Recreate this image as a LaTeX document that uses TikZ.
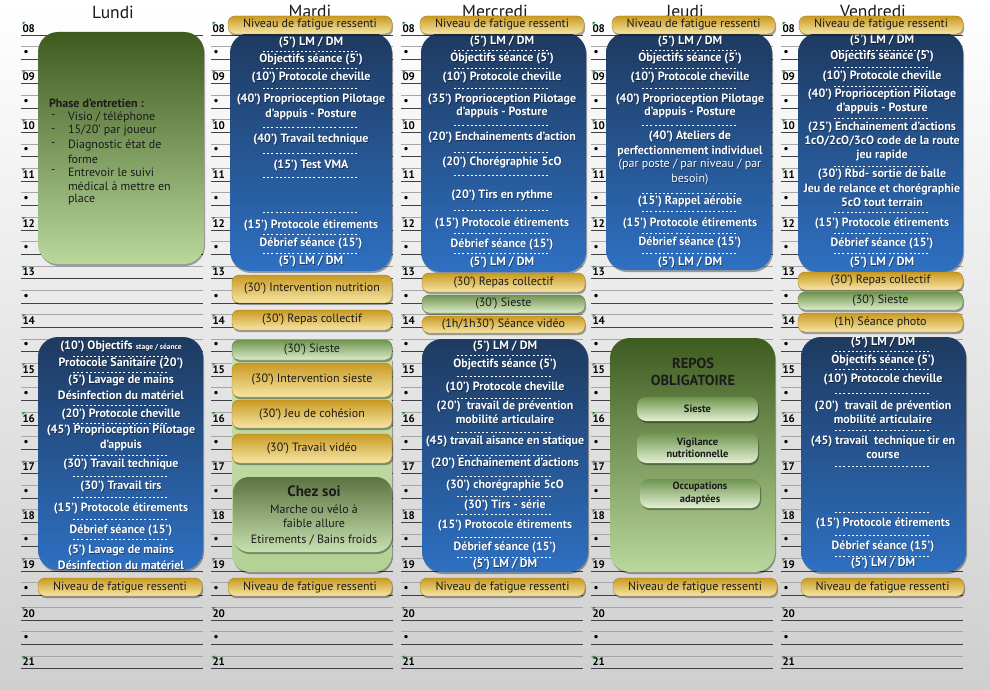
\documentclass[tikz,border=0pt]{standalone}
\usepackage{fontspec}
\setmainfont{PT Sans}
\usetikzlibrary{shadows}
\definecolor{blueT}{HTML}{1E3A60}
\definecolor{blueB}{HTML}{2E70C2}
\definecolor{greenT}{HTML}{3E5B1F}
\definecolor{greenB}{HTML}{B9D89C}
\definecolor{yelT}{HTML}{C99A22}
\definecolor{yelM}{HTML}{F3D57A}
\definecolor{yelB}{HTML}{F7E6A6}
\definecolor{yelD}{HTML}{A8831C}
\definecolor{sgT}{HTML}{6F9550}
\definecolor{sgB}{HTML}{DDEDC9}
\definecolor{panT}{HTML}{C9E0AF}
\definecolor{panB}{HTML}{B2D194}
\definecolor{darktext}{HTML}{1B1B1B}
\definecolor{markgreen}{HTML}{2E8B2E}
\tikzset{
  every node/.style={inner sep=0pt,outer sep=0pt},
  boxshadow/.style={drop shadow={shadow xshift=1pt,shadow yshift=-2pt,opacity=0.35,fill=black}},
  bluebox/.style={rounded corners=20pt,top color=blueT,bottom color=blueB,boxshadow},
  greenbox/.style={rounded corners=20pt,top color=greenT,bottom color=greenB,boxshadow},
  panelbox/.style={rounded corners=18pt,top color=panT,bottom color=panB,boxshadow},
  chezbox/.style={rounded corners=16pt,top color=greenT!85!white,bottom color=greenB!80!white,boxshadow},
  innerbox/.style={rounded corners=9pt,top color=sgT,bottom color=sgB!80!white,boxshadow,
     text=darktext,font=\fontsize{10.5}{12.5}\selectfont\bfseries,align=center},
  ybox/.style={rounded corners=7pt,top color=yelT,middle color=yelM,bottom color=yelB,draw=yelD,line width=0.4pt,boxshadow,
     text=darktext,font=\fontsize{12}{13}\selectfont},
  gbox/.style={rounded corners=7pt,top color=sgT,bottom color=sgB,draw=sgT!80!black,line width=0.4pt,boxshadow,
     text=darktext,font=\fontsize{12}{13}\selectfont},
  wtext/.style={text=white,font=\fontsize{12}{13}\selectfont\bfseries},
  wshadow/.style={text=black,opacity=0.45,font=\fontsize{12}{13}\selectfont\bfseries},
  sep/.style={white,line width=0.8pt,dash pattern=on 2pt off 2.2pt},
  thinrule/.style={black!35,line width=0.5pt},
  thickrule/.style={black!75,line width=0.9pt},
  hourlab/.style={anchor=west,font=\fontsize{11}{12}\selectfont\bfseries,text=black},
  daytitle/.style={font=\fontsize{17.5}{19}\selectfont,text=black!90},
  gtext/.style={text=darktext,font=\fontsize{12}{13}\selectfont,anchor=west},
}
\newcommand\boxnode[7]{%
  \pgfmathsetmacro\bw{#5-#3}\pgfmathsetmacro\bh{#6-#4}%
  \node[#1,minimum width=\bw pt,minimum height=\bh pt] (#2) at ({(#3+#5)/2},{(#4+#6)/2}) {#7};}
\newcommand\items[3]{%
  \foreach \yy/\tx [count=\cnt] in {#3} {%
    \node[wshadow] (#1s\cnt) at (#2+0.7,\yy+0.9) {\tx};
    \node[wtext] (#1\cnt) at (#2,\yy) {\tx};}}
\newcommand\seps[2]{%
  \foreach \yy in {#2} {\draw[sep] (#1-48,\yy) -- (#1+48,\yy);}}
\begin{document}
\begin{tikzpicture}[x=1pt,y=-1pt]
\useasboundingbox (0,0) rectangle (990,690);
\fill[top color=white,middle color=white!95!black,bottom color=black!19] (0,0) rectangle (990,690);

% day titles
\node[daytitle] (tLu) at (113,12) {Lundi};
\node[daytitle] (tMa) at (310,11) {Mardi};
\node[daytitle] (tMe) at (495,11) {Mercredi};
\node[daytitle] (tJe) at (685,11) {Jeudi};
\node[daytitle] (tVe) at (873,11) {Vendredi};

% ruled time grid
\foreach \k in {0,...,4} {
  \pgfmathsetmacro\cx{21+190*\k}
  \foreach \i in {0,...,26} {
    \pgfmathsetmacro\yb{35+24.375*\i}
    \pgfmathtruncatemacro\h{8+\i/2}
    \pgfmathtruncatemacro\odd{mod(\i,2)}
    \ifnum\i>0 \draw[thinrule] (\cx,\yb-13) -- (\cx+182,\yb-13);\fi
    \draw[thickrule] (\cx,\yb) -- (\cx+182,\yb);
    \ifnum\odd=0
      \node[hourlab] (lab\k-\i) at (\cx+1.5,\yb-6.8) {\ifnum\h<10 0\fi\h};
      \fill[markgreen] (\cx+1.5,\yb-13) -- (\cx+4.5,\yb-13) -- (\cx+1.5,\yb-10) -- cycle;
    \else
      \node[hourlab] (lab\k-\i) at (\cx+2.5,\yb-6.5) {•};
    \fi
  }
}

% ---------------- Lundi ----------------
\boxnode{greenbox}{luAM}{38}{32}{204}{264}{}
\node[gtext,font=\fontsize{12}{13}\selectfont\bfseries] (luH) at (49,103) {Phase d’entretien :};
\foreach \yy/\tx [count=\cnt] in {117/{Visio / téléphone},131/{15/20’ par joueur},145/{Diagnostic état de},159/{forme},172/{Entrevoir le suivi},186/{médical à mettre en},199/{place}} {
  \node[gtext] (luL\cnt) at (68,\yy) {\tx};}
\foreach \yy [count=\cnt] in {117,131,145,172} {\node[gtext] (luD\cnt) at (51,\yy) {-};}

\boxnode{bluebox}{luPM}{38}{337}{203}{570}{}
\items{lp}{121}{347/{(10’) Objectifs {\fontsize{7.5}{8}\selectfont stage / séance}},364/{Protocole Sanitaire (20’)},381/{(5’) Lavage de mains},395/{Désinfection du matériel},415/{(20’) Protocole cheville},431/{(45’) Proprioception Pilotage},445/{d’appuis},465/{(30’) Travail technique},487/{(30’) Travail tirs},508/{(15’) Protocole étirements},530/{Débrief séance (15’)},551/{(5’) Lavage de mains},565/{Désinfection du matériel}}
\seps{121}{356,372,405,423,455,476,497,519,539}
\boxnode{ybox}{luF}{38}{578}{202}{596}{Niveau de fatigue ressenti}

% ---------------- Mardi ----------------
\boxnode{bluebox}{maAM}{230}{33}{392}{271}{}
\items{ma}{311}{43/{(5’) LM / DM},60/{Objectifs séance (5’)},78/{(10’) Protocole cheville},100/{(40’) Proprioception Pilotage},114/{d’appuis - Posture},140/{(40’) Travail technique},166/{(15’) Test VMA},225/{(15’) Protocole étirements},243/{Débrief séance (15’)},262/{(5’) LM / DM}}
\seps{311}{51,68,88,127,153,177,212,234,253}
\boxnode{ybox}{maN}{228}{16}{392}{34}{Niveau de fatigue ressenti}
\boxnode{ybox}{maNut}{232}{275}{392}{303}{(30’) Intervention nutrition}
\boxnode{ybox}{maRep}{232}{310}{392}{330}{(30’) Repas collectif}
\boxnode{panelbox}{maPan}{232}{345}{392}{572}{}
\boxnode{gbox}{maSie}{232}{340}{392}{360}{(30’) Sieste}
\boxnode{ybox}{maIS}{232}{363}{392}{397}{(30’) Intervention sieste}
\boxnode{ybox}{maJC}{232}{400}{392}{428}{(30’) Jeu de cohésion}
\boxnode{ybox}{maTV}{232}{434}{392}{463}{(30’) Travail vidéo}
\boxnode{chezbox}{maCS}{233}{477}{392}{552}{}
\node[text=darktext,font=\fontsize{15}{17}\selectfont\bfseries] (csT) at (314,491) {Chez soi};
\node[text=darktext,font=\fontsize{12}{13}\selectfont] (cs1) at (314,509) {Marche ou vélo à};
\node[text=darktext,font=\fontsize{12}{13}\selectfont] (cs2) at (314,523) {faible allure};
\node[text=darktext,font=\fontsize{12}{13}\selectfont] (cs3) at (314,540) {Etirements / Bains froids};
\boxnode{ybox}{maF}{228}{578}{392}{596}{Niveau de fatigue ressenti}

% ---------------- Mercredi ----------------
\boxnode{bluebox}{meAM}{421}{33}{586}{272}{}
\items{me}{502}{42/{(5’) LM / DM},59/{Objectifs séance (5’)},78/{(10’) Protocole cheville},100/{(35’) Proprioception Pilotage},112/{d’appuis - Posture},138/{(20’) Enchainements d’action},162/{(20’) Chorégraphie 5cO},196/{(20’) Tirs en rythme},223/{(15’) Protocole étirements},244/{Débrief séance (15’)},263/{(5’) LM / DM}}
\seps{502}{50,68,88,125,152,175,210,233,253}
\boxnode{ybox}{meN}{420}{16}{584}{34}{Niveau de fatigue ressenti}
\boxnode{ybox}{meRep}{422}{273}{585}{292}{(30’) Repas collectif}
\boxnode{gbox}{meSie}{422}{295}{585}{313}{(30’) Sieste}
\boxnode{ybox}{meSV}{422}{316}{585}{333}{(1h/1h30’) Séance vidéo}
\boxnode{bluebox}{mePM}{422}{339}{588}{572}{}
\items{mp}{505}{347/{(5’) LM / DM},364/{Objectifs séance (5’)},388/{(10’) Protocole cheville},406/{(20’)~ travail de prévention},419/{mobilité articulaire},442/{(45) travail aisance en statique},464/{(20’) Enchainement d’actions},485/{(30’) chorégraphie 5cO},505/{(30’) Tirs - série},525/{(15’) Protocole étirements},547/{Débrief séance (15’)},565/{(5’) LM / DM}}
\seps{505}{355,376,398,432,455,476,496,514,537,557}
\boxnode{ybox}{meF}{420}{578}{585}{596}{Niveau de fatigue ressenti}

% ---------------- Jeudi ----------------
\boxnode{bluebox}{jeAM}{606}{33}{772}{270}{}
\items{je}{690}{42/{(5’) LM / DM},59/{Objectifs séance (5’)},78/{(10’) Protocole cheville},100/{(40’) Proprioception Pilotage},112/{d’appuis - Posture},137/{(40’) Ateliers de},151/{perfectionnement individuel},165/{\mdseries(par poste / par niveau / par},180/{\mdseries besoin)},201/{(15’) Rappel aérobie},223/{(15’) Protocole étirements},242/{Débrief séance (15’)},263/{(5’) LM / DM}}
\seps{690}{50,68,88,125,193,211,233,253}
\boxnode{ybox}{jeN}{612}{16}{775}{34}{Niveau de fatigue ressenti}
\boxnode{greenbox}{jeRep}{610}{338}{775}{572}{}
\node[text=darktext,font=\fontsize{14.5}{16}\selectfont\bfseries,align=center] (jeR1) at (693,363) {REPOS};
\node[text=darktext,font=\fontsize{14.5}{16}\selectfont\bfseries,align=center] (jeR2) at (693,380) {OBLIGATOIRE};
\boxnode{innerbox}{jeI1}{637}{397}{758}{421}{Sieste}
\boxnode{innerbox}{jeI2}{637}{433}{758}{463}{Vigilance\\nutritionnelle}
\boxnode{innerbox}{jeI3}{640}{479}{760}{508}{Occupations\\adaptées}
\boxnode{ybox}{jeF}{613}{578}{777}{596}{Niveau de fatigue ressenti}

% ---------------- Vendredi ----------------
\boxnode{bluebox}{veAM}{798}{33}{963}{272}{}
\items{ve}{882}{41/{(5’) LM / DM},57/{Objectifs séance (5’)},77/{(10’) Protocole cheville},95/{(40’) Proprioception Pilotage},108/{d’appuis - Posture},128/{(25’) Enchainement d’actions},141/{1cO/2cO/3cO code de la route},155/{jeu rapide},175/{(30’) Rbd- sortie de balle},189/{Jeu de relance et chorégraphie},202/{5cO tout terrain},223/{(15’) Protocole étirements},243/{Débrief séance (15’)},263/{(5’) LM / DM}}
\seps{882}{50,67,86,118,166,212,233,253}
\boxnode{ybox}{veN}{799}{16}{963}{34}{Niveau de fatigue ressenti}
\boxnode{ybox}{veRep}{798}{272}{963}{290}{(30’) Repas collectif}
\boxnode{gbox}{veSie}{798}{292}{963}{310}{(30’) Sieste}
\boxnode{ybox}{veSP}{798}{313}{963}{332}{(1h) Séance photo}
\boxnode{bluebox}{vePM}{801}{337}{966}{572}{}
\items{vp}{883}{343/{(5’) LM / DM},360/{Objectifs séance (5’)},380/{(10’) Protocole cheville},406/{(20’)~ travail de prévention},419/{mobilité articulaire},442/{(45) travail~ technique tir en},455/{course},523/{(15’) Protocole étirements},546/{Débrief séance (15’)},564/{(5’) LM / DM}}
\seps{883}{351,369,393,430,466,512,535,556}
\boxnode{ybox}{veF}{801}{578}{964}{596}{Niveau de fatigue ressenti}
\end{tikzpicture}
\end{document}
